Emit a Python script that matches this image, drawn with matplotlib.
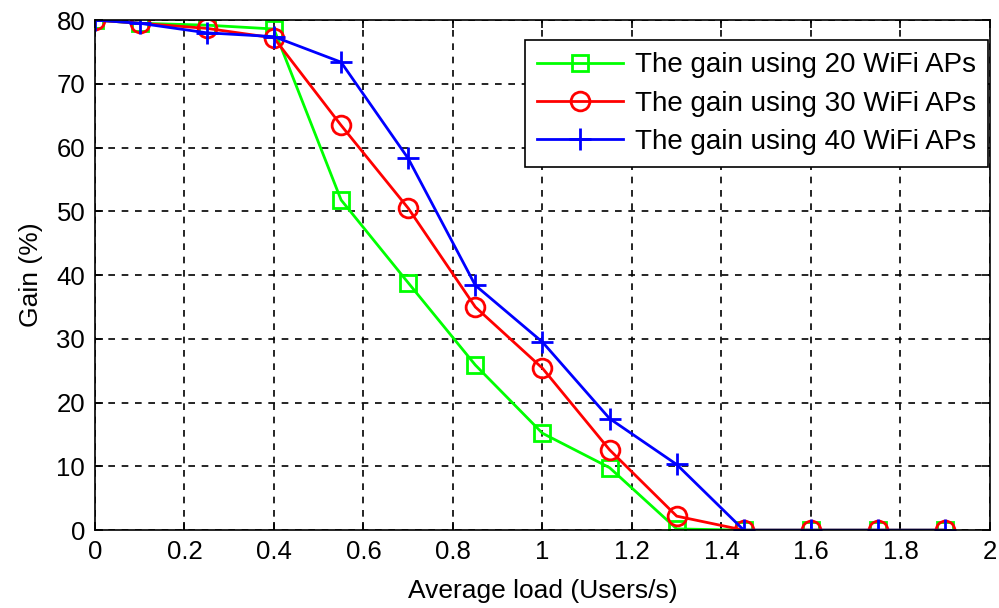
import matplotlib.pyplot as plt

# average load values (Users/s)
load = [0, 0.1, 0.25, 0.4, 0.55, 0.7, 0.85, 1.0, 1.15, 1.3, 1.45, 1.6, 1.75, 1.9]

# gain (%) for each number of WiFi APs
gain_20 = [80, 79.5, 79.2, 78.6, 51.8, 38.8, 25.9, 15.2, 9.8, 0.2, 0, 0, 0, 0]
gain_30 = [80, 79.5, 78.7, 77.2, 63.5, 50.5, 35.0, 25.4, 12.6, 2.2, 0, 0, 0, 0]
gain_40 = [80, 79.5, 78.0, 77.4, 73.4, 58.3, 38.4, 29.5, 17.5, 10.3, 0, 0, 0, 0]

labels = ['The gain using 20 WiFi APs', 'The gain using 30 WiFi APs',
          'The gain using 40 WiFi APs']

plt.rcParams['font.family'] = ['Liberation Sans', 'DejaVu Sans']

fig = plt.figure(figsize=(9.99, 6.08), dpi=100)
ax = fig.add_axes([0.095, 0.128, 0.896, 0.839])

ax.plot(load, gain_20, color='#00ff00', lw=2, marker='s', ms=11.5,
        mfc='none', mew=2, label=labels[0])
ax.plot(load, gain_30, color='#ff0000', lw=2, marker='o', ms=13.5,
        mfc='none', mew=2, label=labels[1])
ax.plot(load, gain_40, color='#0000ff', lw=2, marker='+', ms=16,
        mew=2, label=labels[2])

ax.set_xlim(0, 2)
ax.set_ylim(0, 80)
ax.set_xticks([0, 0.2, 0.4, 0.6, 0.8, 1, 1.2, 1.4, 1.6, 1.8, 2])
ax.set_xticklabels(['0', '0.2', '0.4', '0.6', '0.8', '1', '1.2', '1.4', '1.6', '1.8', '2'])
ax.set_yticks(range(0, 81, 10))
ax.tick_params(direction='in', top=True, right=True, length=6, width=1.2,
               labelsize=18.5, pad=7)
ax.grid(True, color='black', linestyle=(0, (4, 4)), linewidth=1.2)
for s in ax.spines.values():
    s.set_linewidth(1.2)

ax.set_xlabel('Average load (Users/s)', fontsize=19, labelpad=11)
ax.set_ylabel('Gain (%)', fontsize=19, labelpad=10)

leg = ax.legend(loc='upper right', bbox_to_anchor=(0.998, 0.961),
                borderaxespad=0, fontsize=20, fancybox=False, framealpha=1,
                edgecolor='black', handlelength=3.1, handletextpad=0.4,
                labelspacing=0.44, borderpad=0.45)
leg.get_frame().set_linewidth(1.2)

fig.savefig('out.png', dpi=100)
